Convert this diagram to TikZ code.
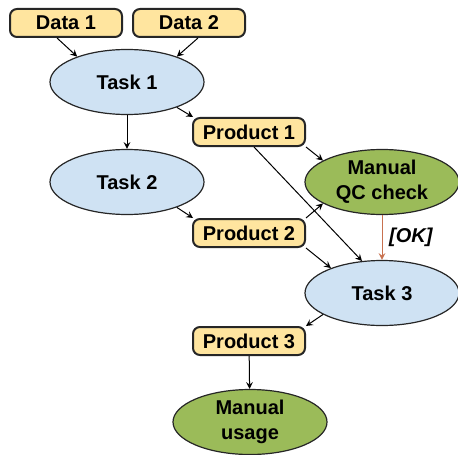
\documentclass[tikz,border=0pt]{standalone}
\usepackage{fontspec}
\setmainfont{Liberation Sans}
\usetikzlibrary{shapes.geometric}

\definecolor{datayellow}{HTML}{FFE59F}
\definecolor{taskblue}{HTML}{CFE2F3}
\definecolor{manualgreen}{HTML}{9BBB59}
\definecolor{okarrow}{HTML}{C8714F}
\definecolor{edgegray}{HTML}{262626}

\begin{document}
\begin{tikzpicture}[x=0.5pt,y=-0.5pt,>=stealth,
    font=\fontsize{10}{12.5}\selectfont\bfseries,
    databox/.style={draw=edgegray,line width=1pt,rounded corners=3.5pt,fill=datayellow,
      minimum width=56pt,minimum height=14pt,inner sep=0pt},
    taskell/.style={ellipse,draw=edgegray,line width=0.6pt,fill=taskblue,
      minimum width=77pt,minimum height=32.5pt,inner sep=0pt},
    manualell/.style={taskell,fill=manualgreen,align=center},
    arr/.style={->,line width=0.5pt}]
            \useasboundingbox (0,0) rectangle (458,454);

            % Inputs
            \node[databox] (d1) at (66,23) {Data 1};
            \node[databox] (d2) at (189,23) {Data 2};

            % Tasks
            \node[taskell] (t1) at (127,82) {Task 1};
            \node[taskell] (t2) at (127,182) {Task 2};
            \node[taskell] (t3) at (382,293) {Task 3};

            % Products
            \node[databox] (p1) at (249,132) {Product 1};
            \node[databox] (p2) at (249,233) {Product 2};
            \node[databox] (p3) at (249,341) {Product 3};

            % Manual steps
            \node[manualell] (qc) at (382,182) {Manual\\QC check};
            \node[manualell] (mu) at (250,422) {Manual\\usage};

            % Draw arrows
            \draw[arr] ([xshift=-4.5pt]d1.south) -- (t1.153);
            \draw[arr] ([xshift=4.5pt]d2.south) -- (t1.27);
            \draw[arr] (t1) -- (t2);
            \draw[arr] (t1.-27) -- (p1.165);
            \draw[arr] (p1.south east) -- (qc.160);
            \draw[arr] ([xshift=2.5pt]p1.south) -- (t3.122);
            \draw[arr] (t2.-27) -- (p2.165);
            \draw[arr] (p2.north east) -- (qc.200);
            \draw[arr] (p2.south east) -- (t3.154);
            \draw[arr,okarrow] (qc) -- (t3) node[midway,right,text=black,font=\fontsize{10}{12}\selectfont\bfseries\itshape] {[OK]};
            \draw[arr] (t3.200) -- (p3.north east);
            \draw[arr] (p3) -- (mu);
\end{tikzpicture}
\end{document}
